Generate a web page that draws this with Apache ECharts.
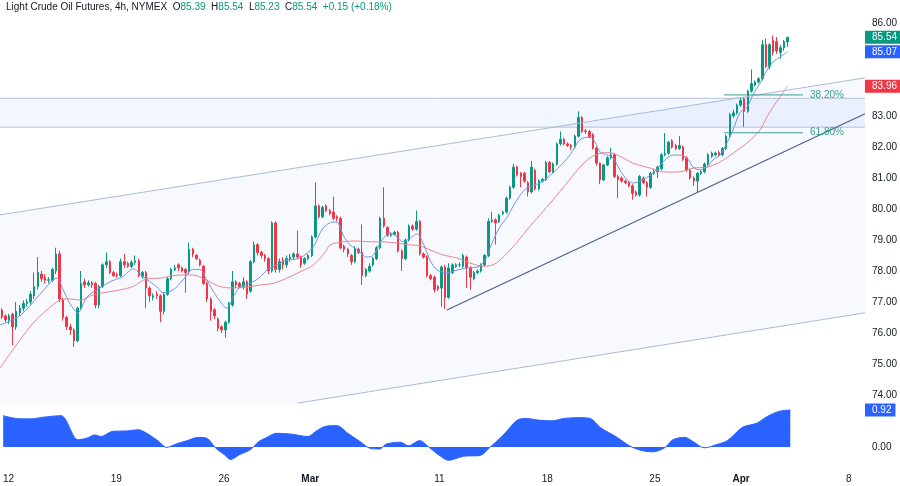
<!DOCTYPE html>
<html><head><meta charset="utf-8">
<script src="https://cdn.jsdelivr.net/npm/echarts/dist/echarts.min.js"></script>
<style>html,body{margin:0;padding:0;background:#fff}#c{width:900px;height:486px}</style>
</head><body><div id="c"></div>
<script>
// ---- data (category slot index j = one 4h bar) ----
const quote = {name: 'Light Crude Oil Futures, 4h, NYMEX', o: '85.39', h: '85.54', l: '85.23', c: '85.54', chg: '+0.15 (+0.18%)'};
// [open, close, low, high]
const candles = [
[76.74,76.52,76.45,76.80],[76.55,76.42,76.35,76.60],[76.42,76.55,76.30,76.62],[76.60,76.20,75.60,76.65],[76.20,76.70,76.10,77.00],
[76.65,76.80,76.55,76.90],[76.80,76.95,76.70,77.05],[76.95,77.00,76.85,77.10],[77.00,77.25,76.90,77.35],[77.20,77.50,77.10,77.95],
[77.50,77.95,77.40,78.45],[77.90,77.75,77.65,78.00],[77.80,77.70,77.60,77.90],[77.70,77.72,77.60,77.80],[77.70,78.05,77.65,78.10],
[78.00,78.55,77.90,78.75],[78.55,77.10,77.00,78.65],[77.06,76.50,76.40,77.15],[76.50,76.20,76.10,76.55],[76.20,76.10,75.95,76.30],
[76.10,75.75,75.55,76.15],[75.75,76.80,75.70,76.85],[76.80,77.60,76.75,78.00],[77.65,77.55,77.45,77.75],[77.55,77.62,77.50,77.70],
[77.62,77.55,77.45,77.68],[77.60,76.90,76.80,77.65],[76.90,77.50,76.80,77.55],[77.50,78.20,77.45,78.25],[78.20,78.30,78.10,78.60],
[78.30,77.95,77.90,78.35],[77.95,77.85,77.80,78.00],[77.88,77.85,77.78,77.95],[77.85,78.30,77.80,78.40],[78.30,78.20,78.10,78.55],
[78.25,78.15,78.10,78.30],[78.15,78.28,78.10,78.35],[78.28,78.33,78.20,78.50],[78.33,77.85,77.80,78.40],[77.82,77.95,77.75,78.00],
[77.95,77.45,76.80,78.00],[77.45,77.20,77.00,77.50],[77.15,77.20,77.05,77.28],[77.25,77.20,77.10,77.35],[77.20,76.70,76.35,77.25],
[76.70,77.25,76.60,77.30],[77.25,77.75,77.20,77.80],[77.75,78.05,77.70,78.10],[78.05,78.10,78.00,78.20],[78.20,78.10,78.00,78.25],
[78.10,78.00,77.95,78.15],[78.05,77.95,77.30,78.10],[77.98,78.70,77.90,78.92],[78.70,78.55,78.45,78.75],[78.50,78.40,78.35,78.55],
[78.35,78.20,78.15,78.40],[78.15,77.60,77.55,78.20],[77.60,77.10,77.00,77.65],[77.10,76.70,76.40,77.15],[76.75,76.55,76.45,76.80],
[76.45,76.15,76.05,76.50],[76.20,76.10,76.00,76.25],[76.10,76.35,75.85,76.40],[76.35,76.95,76.30,77.00],[76.90,77.65,76.85,78.00],
[77.65,77.55,77.45,77.70],[77.60,77.50,77.45,77.65],[77.50,77.65,77.40,77.80],[77.65,77.25,77.10,77.70],[77.35,78.30,77.30,78.35],
[78.30,78.85,78.25,78.95],[78.85,78.60,78.50,78.90],[78.60,78.50,78.40,78.65],[78.50,78.40,78.30,78.55],[78.40,78.00,77.90,78.45],
[78.00,79.55,77.95,79.60],[79.55,78.05,77.95,79.60],[78.05,78.30,77.95,78.40],[78.35,78.20,78.05,78.45],[78.20,78.40,78.10,78.50],
[78.40,78.45,78.30,78.55],[78.45,78.55,78.35,78.60],[78.55,78.45,78.40,79.30],[78.45,78.20,78.10,78.50],[78.25,78.40,78.20,78.45],
[78.40,78.50,78.35,78.55],[78.50,79.10,78.45,79.15],[79.10,80.10,79.05,80.85],[80.10,79.75,79.70,80.15],[79.75,80.05,79.70,80.10],
[80.10,79.95,79.90,80.15],[79.95,79.85,79.80,80.00],[79.90,79.70,79.65,80.40],[79.75,79.70,79.60,79.80],[79.70,78.75,78.70,79.75],
[78.80,78.70,78.60,78.85],[78.70,78.55,78.45,78.75],[78.50,78.30,78.20,78.55],[78.30,78.70,78.25,78.80],[78.70,78.60,78.55,78.75],
[78.60,77.85,77.55,79.50],[77.85,78.05,77.80,78.10],[78.00,78.15,77.95,78.25],[78.20,78.40,78.15,78.45],[78.40,78.75,78.35,78.80],
[78.75,79.70,78.70,79.75],[79.70,79.45,79.40,80.70],[79.40,79.15,79.10,79.45],[79.15,79.18,79.10,79.25],[79.18,79.25,79.15,79.30],
[79.25,78.65,78.60,79.30],[78.65,78.40,78.00,78.70],[78.40,79.00,78.35,79.05],[79.00,79.45,78.95,79.50],[79.45,79.35,79.30,79.50],
[79.35,79.60,79.30,79.95],[79.60,78.55,78.50,79.65],[78.55,78.45,78.40,78.60],[78.45,77.85,77.80,78.50],[77.85,77.75,77.70,77.90],
[77.80,77.40,77.30,77.85],[77.50,77.42,77.35,77.55],[77.45,78.13,76.85,78.18],[78.13,77.15,76.78,78.20],[77.15,78.10,77.10,78.25],
[77.95,78.20,77.90,78.25],[78.15,78.20,78.10,78.25],[78.20,78.20,78.12,78.28],[78.15,78.50,78.10,78.55],[78.45,78.10,77.45,78.50],
[78.10,77.80,77.40,78.15],[77.75,77.95,77.70,78.00],[77.95,78.00,77.90,78.05],[78.00,78.20,77.95,78.25],[78.20,78.50,78.15,78.55],
[78.50,79.60,78.45,79.70],[79.60,79.65,79.55,79.90],[79.65,79.55,78.85,79.70],[79.60,79.80,79.55,79.85],[79.85,79.90,79.80,79.95],
[79.90,80.35,79.85,80.40],[80.35,80.70,80.30,80.75],[80.70,81.35,80.65,81.45],[81.35,81.10,81.05,81.40],[81.15,81.05,80.70,81.20],
[81.15,80.90,80.85,81.20],[80.85,80.55,80.40,80.90],[80.55,81.35,80.50,81.55],[81.25,80.65,80.60,81.30],[80.65,80.90,80.60,80.95],
[80.90,80.95,80.85,81.00],[80.95,81.50,80.90,81.55],[81.50,81.20,81.15,81.55],[81.20,81.45,81.15,81.50],[81.45,82.10,81.40,82.15],
[82.10,82.25,82.05,82.50],[82.25,82.10,82.05,82.30],[82.10,82.05,82.00,82.15],[82.05,82.00,81.90,82.10],[82.00,82.35,81.95,82.40],
[82.35,82.95,82.30,83.15],[82.95,82.50,82.45,83.00],[82.52,82.50,82.42,82.58],[82.50,82.32,82.28,82.55],[82.40,81.97,81.92,82.45],
[81.97,81.48,81.40,82.00],[81.48,80.94,80.80,81.50],[80.94,81.42,80.90,81.45],[81.42,81.65,81.38,81.70],[81.65,81.75,81.60,81.97],
[81.75,81.05,81.00,81.80],[81.05,80.95,80.35,81.10],[81.00,80.90,80.85,81.05],[80.90,80.85,80.80,80.95],[80.85,80.75,80.70,80.90],
[80.75,80.50,80.30,80.80],[80.55,80.45,80.40,80.60],[80.45,81.05,80.40,81.10],[81.00,80.85,80.80,81.05],[80.85,80.70,80.40,80.90],
[80.70,81.15,80.65,81.20],[81.15,81.20,81.10,81.30],[81.20,81.35,81.00,81.40],[81.30,81.75,81.25,81.80],[81.75,81.80,81.70,82.45],
[81.80,82.15,81.75,82.20],[82.20,82.00,81.95,82.25],[82.05,81.95,81.90,82.10],[81.95,82.05,81.90,82.35],[82.00,81.60,81.55,82.05],
[81.65,81.25,81.20,81.70],[81.25,81.00,80.95,81.30],[81.00,80.90,80.75,81.05],[80.90,81.15,80.55,81.20],[81.15,81.20,81.10,81.25],
[81.20,81.45,81.15,81.50],[81.45,81.75,81.40,81.80],[81.70,81.80,81.65,81.85],[81.75,81.80,81.70,81.85],[81.82,81.75,81.70,81.88],
[81.75,81.95,81.70,82.00],[81.95,82.35,81.90,82.40],[82.35,83.05,82.30,83.10],[83.00,83.10,82.95,83.20],[83.10,83.35,83.05,83.40],
[83.35,83.50,83.30,83.60],[83.55,83.15,82.65,83.60],[83.15,83.80,83.10,83.85],[83.80,84.05,83.75,84.50],[84.00,84.10,83.95,84.15],
[84.10,84.20,84.05,84.25],[84.20,85.30,84.15,85.45],[85.30,84.60,84.55,85.50],[84.60,85.30,84.50,85.35],[85.45,85.05,84.95,85.60],
[85.40,85.10,85.00,85.55],[85.05,85.20,84.85,85.30],[85.20,85.40,85.10,85.45],[85.39,85.54,85.23,85.54]
];
// fast moving average (blue) read as [slot, price]
const maFast = [[-0.5,76.26],[5,76.55],[10.6,77.25],[15.3,77.77],[17,77.4],[18.9,76.95],[21.1,76.65],[23.6,77.16],[27.2,77.45],[30,77.65],
[33.6,77.82],[36.4,78.07],[39.2,77.82],[43.1,77.48],[44.7,77.3],[47.5,77.39],[50.3,77.71],[53,78.05],[55,78.05],[56.9,77.7],
[59.7,77.16],[62.5,76.8],[64.2,77.16],[66.1,77.48],[68.9,77.6],[71.6,77.8],[73.6,78.03],[76.4,78.2],[79.1,78.35],[82.7,78.42],
[86.4,78.77],[89.1,79.38],[91.9,79.58],[93.3,79.55],[94.7,79.16],[96.6,78.84],[98.8,78.68],[101.3,78.45],[103,78.5],[105.5,79.0],
[107.7,79.23],[109.7,79.1],[111.3,78.94],[113.3,79.06],[115.2,79.2],[116.9,78.9],[118.8,78.35],[120.8,78.03],[123.5,77.94],[126.3,78.03],
[129.1,78.1],[131.8,78.12],[134.1,78.35],[136,78.9],[138.2,79.42],[140.2,79.74],[142.9,80.29],[145.7,80.68],[149.3,80.84],[152.9,81.16],
[155.7,81.48],[157.7,81.75],[160.4,82.23],[163.2,82.32],[164.6,82.16],[166,81.84],[168,81.74],[169.6,81.65],[171.5,81.26],[173.5,80.94],
[175.1,80.84],[177.1,80.9],[180.7,81.16],[183.5,81.52],[186.2,81.74],[188.2,81.74],[190.1,81.65],[191.8,81.35],[193.7,81.26],[195.7,81.35],
[197.3,81.58],[199.3,81.74],[201.2,82.13],[202.9,82.55],[204.8,83.1],[206.8,83.29],[208.4,83.68],[210.4,84.06],[212.3,84.48],[214,84.74],
[215.9,84.9],[218,85.07]];
// slow moving average (red)
const maSlow = [[-0.5,74.87],[5,75.77],[8.7,76.32],[12.5,76.74],[16.1,77.06],[18.9,77.1],[21.7,77.06],[25.3,77.23],[29.2,77.32],[32.8,77.39],
[36.4,77.5],[40.3,77.75],[43.9,77.77],[49.4,77.87],[53,77.87],[56.9,77.7],[60.5,77.5],[64.2,77.45],[68,77.48],[71.6,77.55],
[75.3,77.6],[79.1,77.77],[82.7,77.97],[86.4,78.19],[89.7,78.6],[91.1,78.84],[94.7,78.94],[98.6,78.97],[102.2,78.94],[105.8,78.94],
[109.7,78.9],[113.3,78.84],[116,78.82],[118.8,78.68],[122.4,78.52],[126.3,78.42],[129.9,78.26],[133.5,78.15],[136.3,78.2],[138.2,78.35],
[141.8,78.77],[145.7,79.32],[149.3,79.81],[152.9,80.29],[156.8,80.84],[160.4,81.35],[163.2,81.65],[166,81.8],[168.8,81.82],[171.5,81.7],
[175.1,81.48],[179,81.35],[184.6,81.19],[188.2,81.2],[191.8,81.32],[195.7,81.35],[199.3,81.52],[202.9,81.8],[206.8,82.13],[210.4,82.55],
[212.3,82.97],[214,83.29],[215.9,83.61],[218,83.96]];
// lower-pane oscillator
const oscValues = [[-0.5,0.78],[4.2,0.70],[7.5,0.70],[10.6,0.74],[15.6,0.78],[20.3,0.18],[22.8,0.22],[25,0.30],[26.7,0.26],[30,0.39],
[33.9,0.40],[37.2,0.43],[39.5,0.34],[42.8,0.14],[45,-0.01],[47.5,0.07],[50.8,0.16],[53.9,0.24],[56.4,0.21],[58.6,-0.02],
[61.1,-0.19],[62.8,-0.31],[65.3,-0.19],[68.3,-0.07],[70.8,0.14],[73,0.24],[75.5,0.34],[79.7,0.32],[84.4,0.26],[86.6,0.39],
[89.1,0.51],[92.5,0.53],[95.5,0.34],[98.8,0.14],[101.9,-0.04],[104.4,-0.05],[106.1,0.07],[110,0.12],[112.4,0.03],[115.5,0.16],
[118,0.0],[121.3,-0.23],[123.5,-0.33],[127.7,-0.23],[132.4,-0.21],[134.9,-0.02],[138.8,0.30],[142.7,0.67],[145.2,0.71],[148.5,0.67],
[152.4,0.65],[155.7,0.71],[159.6,0.73],[162.9,0.71],[166,0.47],[170.1,0.26],[174.1,0.02],[177.4,-0.09],[180.4,-0.12],[183.7,-0.02],
[186,0.18],[189.3,0.24],[191.5,0.14],[194.8,-0.02],[198.2,0.06],[201.2,0.16],[205.4,0.49],[209.3,0.59],[212.3,0.76],[215.7,0.89],[218.7,0.92]];
// drawings
const channelUpper = [[-0.5,79.81],[239.5,84.23]];
const channelLower = [[82.2,73.74],[239.5,76.65]];
const trendLine = [[123.5,76.74],[239.5,83.07]];
const zoneLevels = [82.64, 83.57];
const fibLevels = [['38.20%', 83.68], ['61.80%', 82.46]];
const fibSpan = [200.4, 222.3];
// axis labels
const timeLabels = [[1,'12'],[31,'19'],[61,'26'],[85,'Mar'],[121,'11'],[151,'18'],[181,'25'],[205,'Apr'],[235,'8']];
const priceRange = [74, 86];
const hiddenPriceTicks = [84, 85];
const oscRange = [-0.522, 1.094];
const slotCount = 240;

// ---- chart ----
const FONT = '"Liberation Sans",Arial,sans-serif';
const FS = 9.5;
const TXT = '#131722';
const UP = '#089981', DOWN = '#f23645';
const cats = Array.from({length: slotCount}, (_, i) => 'b' + i);
const labelMap = Object.fromEntries(timeLabels);
const monthNames = ['Mar', 'Apr'];
const lastClose = candles[candles.length - 1][1];
const lastFast = maFast[maFast.length - 1][1];
const lastSlow = maSlow[maSlow.length - 1][1];
const lastOsc = oscValues[oscValues.length - 1][1];

const chart = echarts.init(document.getElementById('c'), null, {renderer: 'canvas'});

function seg(data, color, width, z, extra) {
  return Object.assign({type: 'line', xAxisIndex: 1, yAxisIndex: 0, data: data, symbol: 'none', silent: true,
    lineStyle: {color: color, width: width}, z: z, animation: false}, extra || {});
}
function poly(points, fill, z) {
  return {type: 'custom', xAxisIndex: 1, yAxisIndex: 0, silent: true, z: z, data: [0], clip: false,
    renderItem: (p, api) => ({type: 'polygon', shape: {points: points.map(pt => api.coord(pt))}, style: {fill: fill}})};
}
const hiddenLine = {color: 'rgba(0,0,0,0)', width: 0};
function badge(value, color) {
  return {yAxis: value, lineStyle: hiddenLine, label: {show: true, position: 'end', distance: 0, color: '#ffffff', backgroundColor: color,
    padding: [2, 4, 1, 7], fontSize: FS + 0.5, fontFamily: FONT, formatter: value.toFixed(2)}};
}

const channelPoly = [channelUpper[0], channelUpper[1], channelLower[1], channelLower[0], [-0.5, channelLower[0][1]]];
const zonePoly = [[-0.5, zoneLevels[0]], [slotCount - 0.5, zoneLevels[0]], [slotCount - 0.5, zoneLevels[1]], [-0.5, zoneLevels[1]]];

const series = [
  poly(channelPoly, 'rgba(41,98,255,0.035)', 0),
  poly(zonePoly, 'rgba(41,98,255,0.06)', 0),
  seg([[-0.5, zoneLevels[0]], [slotCount - 0.5, zoneLevels[0]]], '#b4c2d8', 1, 1),
  seg([[-0.5, zoneLevels[1]], [slotCount - 0.5, zoneLevels[1]]], '#b4c2d8', 1, 1),
  seg(channelUpper, '#a9bbd8', 1, 4),
  seg(channelLower, '#a9bbd8', 1, 4, {clip: false}),
  seg(trendLine, '#4a618f', 1.2, 4),
  {type: 'candlestick', xAxisIndex: 0, yAxisIndex: 0, data: candles, barWidth: 2, z: 2, silent: true,
    itemStyle: {color: UP, color0: DOWN, borderColor: UP, borderColor0: DOWN, borderWidth: 1}},
  seg(maSlow, '#e8868d', 1, 3, {smooth: 0.3}),
  seg(maFast, '#7393e0', 1, 3, {smooth: 0.3}),
  // price badges on the right scale
  seg([[-0.5, lastClose], [slotCount - 0.5, lastClose]], 'rgba(0,0,0,0)', 0, 10, {
    markLine: {silent: true, symbol: ['none', 'none'], animation: false,
      data: [badge(lastSlow, DOWN), badge(lastFast, '#2962ff'), badge(lastClose, UP)]}}),
];
fibLevels.forEach(([name, v]) => {
  series.push(seg([[fibSpan[0], v], [fibSpan[1], v]], '#3a9d8f', 1, 5,
    {endLabel: {show: true, formatter: name, color: '#3a9d8f', fontSize: FS + 0.5, fontFamily: FONT, distance: 7}}));
});
series.push({type: 'line', xAxisIndex: 3, yAxisIndex: 1, data: oscValues, symbol: 'none', smooth: 0.3, silent: true,
  lineStyle: {color: '#2962ff', width: 1}, areaStyle: {color: '#2962ff', opacity: 1}, z: 2});
series.push({type: 'line', xAxisIndex: 3, yAxisIndex: 1, data: [[-0.5, 0], [slotCount - 0.5, 0]], symbol: 'none', silent: true,
  lineStyle: {color: 'rgba(0,0,0,0)', width: 0}, z: 10,
  markLine: {silent: true, symbol: ['none', 'none'], animation: false,
    data: [{yAxis: 0, lineStyle: hiddenLine, label: {show: true, position: 'end', distance: 0, padding: [2, 4, 1, 7], color: TXT, fontSize: FS + 0.5, fontFamily: FONT, formatter: '0.00'}},
           badge(lastOsc, '#2962ff')]}});

const titleText = {color: TXT, fontSize: FS + 0.5, fontFamily: FONT, fontWeight: 'normal'};
const option = {
  animation: false,
  backgroundColor: '#ffffff',
  textStyle: {fontFamily: FONT},
  title: {left: 6, top: 2, padding: 0,
    text: '{t|' + quote.name + '}  {k|O}{v|' + quote.o + '}  {k|H}{v|' + quote.h + '}  {k|L}{v|' + quote.l + '}  {k|C}{v|' + quote.c + '}  {v|' + quote.chg + '}',
    textStyle: {fontWeight: 'normal', fontSize: FS + 0.5, rich: {
      t: titleText,
      k: titleText,
      v: Object.assign({}, titleText, {color: UP})}}},
  grid: [{left: 0, right: 35, top: 23, height: 372}, {left: 0, right: 35, top: 403, height: 65}],
  xAxis: [
    {type: 'category', gridIndex: 0, data: cats, boundaryGap: true, axisLine: {show: false}, axisTick: {show: false}, axisLabel: {show: false}, splitLine: {show: false}},
    {type: 'value', gridIndex: 0, min: -0.5, max: slotCount - 0.5, show: false},
    {type: 'category', gridIndex: 1, data: cats, boundaryGap: true, axisLine: {show: false}, axisTick: {show: false}, splitLine: {show: false},
      axisLabel: {interval: (i) => labelMap[i] !== undefined, margin: 6, fontSize: FS + 0.5, color: TXT, fontFamily: FONT,
        formatter: (v, i) => { const t = labelMap[i] || ''; return monthNames.includes(t) ? '{b|' + t + '}' : t; },
        rich: {b: {fontWeight: 'bold', fontSize: FS + 0.5, color: TXT, fontFamily: FONT}}}},
    {type: 'value', gridIndex: 1, min: -0.5, max: slotCount - 0.5, show: false}
  ],
  yAxis: [
    {type: 'value', gridIndex: 0, position: 'right', min: priceRange[0], max: priceRange[1], interval: 1,
      splitLine: {show: false}, axisLine: {show: false}, axisTick: {show: false},
      axisLabel: {margin: 7, fontSize: FS + 0.5, color: TXT, fontFamily: FONT, formatter: v => hiddenPriceTicks.includes(v) ? '' : v.toFixed(2)}},
    {type: 'value', gridIndex: 1, position: 'right', min: oscRange[0], max: oscRange[1], show: false, splitLine: {show: false}}
  ],
  series: series
};
chart.setOption(option);
</script>
</body></html>
